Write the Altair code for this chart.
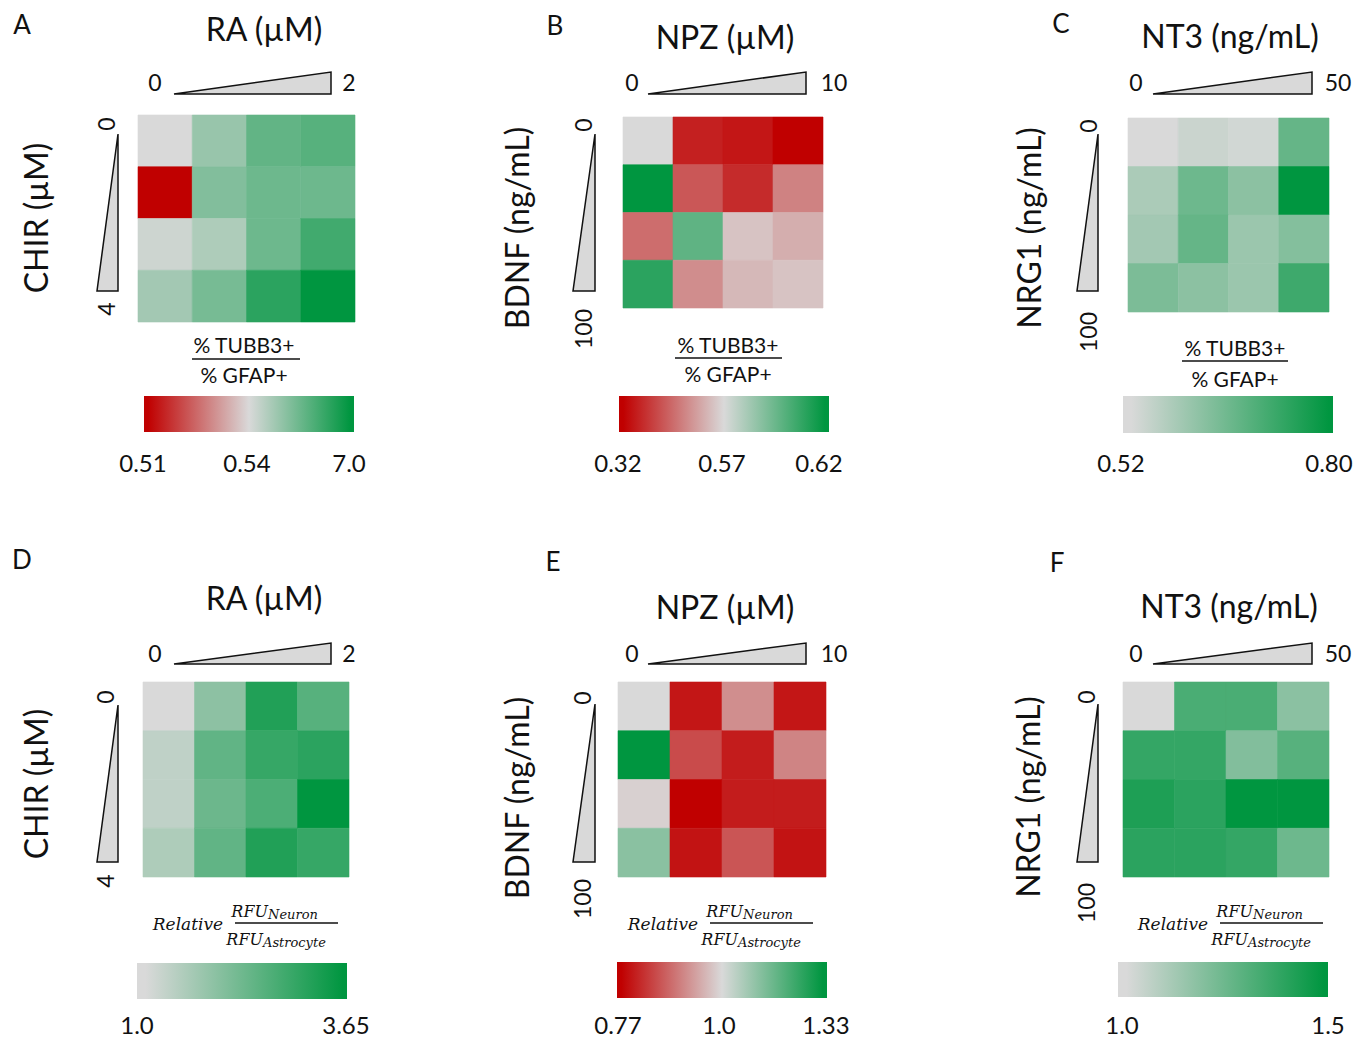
import altair as alt
import pandas as pd

# ---------------- data ----------------
panel_letters = ["A", "B", "C", "D", "E", "F"]
x_titles = ["RA (µM)", "NPZ (µM)", "NT3 (ng/mL)", "RA (µM)", "NPZ (µM)", "NT3 (ng/mL)"]
y_titles = ["CHIR (µM)", "BDNF (ng/mL)", "NRG1 (ng/mL)", "CHIR (µM)", "BDNF (ng/mL)", "NRG1 (ng/mL)"]
x_range_labels = [["0", "2"], ["0", "10"], ["0", "50"], ["0", "2"], ["0", "10"], ["0", "50"]]
y_range_labels = [["0", "4"], ["0", "100"], ["0", "100"], ["0", "4"], ["0", "100"], ["0", "100"]]

# heatmap values, rows top->bottom, columns left->right
heat_A = [[0.54, 2.48, 4.09, 4.42],
          [0.51, 3.12, 3.77, 3.77],
          [0.90, 1.83, 3.77, 5.06],
          [2.16, 3.45, 5.71, 7.00]]
heat_B = [[0.570, 0.357, 0.345, 0.320],
          [0.620, 0.420, 0.370, 0.470],
          [0.445, 0.598, 0.545, 0.520],
          [0.610, 0.482, 0.532, 0.545]]
heat_C = [[0.52, 0.54, 0.53, 0.67],
          [0.58, 0.66, 0.62, 0.80],
          [0.59, 0.67, 0.60, 0.63],
          [0.64, 0.62, 0.60, 0.72]]
heat_D = [[1.00, 1.93, 3.25, 2.59],
          [1.32, 2.46, 2.99, 3.12],
          [1.32, 2.33, 2.72, 3.65],
          [1.53, 2.46, 3.25, 2.99]]
heat_E = [[1.00, 0.793, 0.92, 0.793],
          [1.33, 0.85, 0.80, 0.91],
          [0.99, 0.77, 0.80, 0.80],
          [1.12, 0.79, 0.86, 0.79]]
heat_F = [[1.00, 1.33, 1.33, 1.18],
          [1.38, 1.38, 1.20, 1.30],
          [1.43, 1.40, 1.50, 1.50],
          [1.40, 1.40, 1.38, 1.25]]
heats = [heat_A, heat_B, heat_C, heat_D, heat_E, heat_F]

color_domains = [[0.51, 0.54, 7.0], [0.32, 0.57, 0.62], [0.52, 0.80],
                 [1.0, 3.65], [0.77, 1.0, 1.33], [1.0, 1.5]]
cbar_labels = [["0.51", "0.54", "7.0"], ["0.32", "0.57", "0.62"], ["0.52", "0.80"],
               ["1.0", "3.65"], ["0.77", "1.0", "1.33"], ["1.0", "1.5"]]
caption_top = "% TUBB3+"
caption_bottom = "% GFAP+"
frac_word = "Relative"
frac_main = "RFU"
frac_num_sub = "Neuron"
frac_den_sub = "Astrocyte"

# ---------------- style ----------------
RED, GREY, GREEN = "#C00000", "#D9D9D9", "#009640"
INK = "#111111"
SANS = "Lato"
SERIF = "DejaVu Serif"
M = 8  # page margin

ONE = alt.Data(values=[{"k": 0}])


def T(s, x, y, size, angle=0, align="center", baseline="middle", font=SANS, style="normal"):
    return alt.Chart(ONE).mark_text(
        text=s, fontSize=size, angle=angle, align=align, baseline=baseline,
        font=font, fontStyle=style, color=INK,
    ).encode(x=alt.value(x - M), y=alt.value(y - M))


def heat(vals, dom, x0, x1, y0, y1):
    df = pd.DataFrame([
        {"row": r, "col": c, "row2": r + 1, "col2": c + 1, "value": v}
        for r, rowv in enumerate(vals) for c, v in enumerate(rowv)
    ])
    rng = [RED, GREY, GREEN] if len(dom) == 3 else [GREY, GREEN]
    sc = alt.Scale(domain=dom, range=rng, interpolate="rgb")
    return alt.Chart(df).mark_rect(strokeWidth=0.6).encode(
        x=alt.X("col:Q", scale=alt.Scale(domain=[0, 4], range=[x0 - M, x1 - M], nice=False, zero=False), axis=None),
        x2="col2:Q",
        y=alt.Y("row:Q", scale=alt.Scale(domain=[0, 4], range=[y0 - M, y1 - M], nice=False, zero=False), axis=None),
        y2="row2:Q",
        color=alt.Color("value:Q", scale=sc, legend=None),
        stroke=alt.Stroke("value:Q", scale=sc, legend=None),
    )


def cbar(n, x0, x1, y0, y1):
    if n == 3:
        stops = [(0.0, RED), (0.02, RED), (0.5, GREY), (0.98, GREEN), (1.0, GREEN)]
    else:
        stops = [(0.0, GREY), (0.04, GREY), (0.98, GREEN), (1.0, GREEN)]
    grad = alt.LinearGradient(
        gradient="linear", x1=0, x2=1, y1=0, y2=0,
        stops=[alt.GradientStop(offset=o, color=c) for o, c in stops],
    )
    return alt.Chart(ONE).mark_rect(fill=grad).encode(
        x=alt.value(x0 - M), x2=alt.value(x1 - M), y=alt.value(y0 - M), y2=alt.value(y1 - M)
    )


def hwedge(x0, x1, y0, y1):
    L = x1 - x0
    h = (y1 - y0) / L
    path = f"M -1 {h:.4f} L 1 {-h:.4f} L 1 {h:.4f} Z"
    return alt.Chart(ONE).mark_point(
        shape=path, size=L * L, filled=True, fill=GREY, stroke=INK, strokeWidth=1.5, opacity=1
    ).encode(x=alt.value((x0 + x1) / 2 - M), y=alt.value((y0 + y1) / 2 - M))


def vwedge(x0, x1, y0, y1):
    L = y1 - y0
    w = (x1 - x0) / L
    path = f"M {w:.4f} -1 L {w:.4f} 1 L {-w:.4f} 1 Z"
    return alt.Chart(ONE).mark_point(
        shape=path, size=L * L, filled=True, fill=GREY, stroke=INK, strokeWidth=1.5, opacity=1
    ).encode(x=alt.value((x0 + x1) / 2 - M), y=alt.value((y0 + y1) / 2 - M))


def hline(x0, x1, y, w=1.4):
    return alt.Chart(ONE).mark_rule(color=INK, strokeWidth=w).encode(
        x=alt.value(x0 - M), x2=alt.value(x1 - M), y=alt.value(y - M)
    )


# ---------------- layout (pixel geometry per panel) ----------------
geo = [
    dict(letter=(22, 26), title=(264, 31), hw=(174, 331, 72, 94), hl=[(155, 84), (349, 84)],
         heat=(138, 355, 115, 322), vw=(97, 118, 134, 291), vl=[(108, 124), (108, 309)],
         yt=(38, 218), cap=(244, 347, 192, 300, 359, 377), cb=(144, 354, 396, 432), cbl=(465, [143, 247, 349])),
    dict(letter=(555, 27), title=(725, 39), hw=(648, 806, 72, 94), hl=[(632, 84), (834, 84)],
         heat=(623, 823, 117, 308), vw=(573, 595, 134, 291), vl=[(585, 125), (585, 329)],
         yt=(519, 228), cap=(728, 347, 675, 782, 358, 376), cb=(619, 829, 396, 432), cbl=(465, [618, 722, 819])),
    dict(letter=(1061, 25), title=(1230, 38), hw=(1153, 1312, 72, 94), hl=[(1136, 84), (1338, 84)],
         heat=(1128, 1329, 118, 312), vw=(1077, 1098, 134, 291), vl=[(1090, 126), (1090, 332)],
         yt=(1031, 228), cap=(1235, 350, 1182, 1288, 361, 381), cb=(1123, 1333, 396, 433), cbl=(465, [1121, 1329])),
    dict(letter=(22, 561), title=(264, 600), hw=(174, 331, 643, 664), hl=[(155, 655), (349, 655)],
         heat=(143, 349, 682, 877), vw=(97, 118, 705, 862), vl=[(107, 697), (107, 881)],
         yt=(38, 784), frac=0, cb=(137, 347, 963, 999), cbl=(1027, [137, 346])),
    dict(letter=(553, 563), title=(725, 609), hw=(648, 806, 643, 664), hl=[(632, 655), (834, 655)],
         heat=(618, 826, 682, 877), vw=(573, 595, 704, 862), vl=[(584, 698), (584, 899)],
         yt=(519, 798), frac=475, cb=(617, 827, 962, 998), cbl=(1027, [618, 719, 826])),
    dict(letter=(1057, 564), title=(1229, 608), hw=(1153, 1312, 643, 664), hl=[(1136, 655), (1338, 655)],
         heat=(1123, 1329, 682, 877), vw=(1077, 1098, 704, 862), vl=[(1088, 697), (1088, 903)],
         yt=(1030, 797), frac=985, cb=(1118, 1328, 962, 997), cbl=(1027, [1122, 1328])),
]

layers = []
for i, g in enumerate(geo):
    layers.append(T(panel_letters[i], *g["letter"], 26))
    layers.append(T(x_titles[i], *g["title"], 32))
    layers.append(hwedge(*g["hw"]))
    for lab, (lx, ly) in zip(x_range_labels[i], g["hl"]):
        layers.append(T(lab, lx, ly, 23))
    layers.append(heat(heats[i], color_domains[i], *g["heat"]))
    layers.append(vwedge(*g["vw"]))
    for lab, (lx, ly) in zip(y_range_labels[i], g["vl"]):
        layers.append(T(lab, lx, ly, 23, angle=270))
    layers.append(T(y_titles[i], *g["yt"], 32, angle=270))
    if "cap" in g:
        cx, cy1, lx0, lx1, ly, cy2 = g["cap"]
        layers.append(T(caption_top, cx, cy1, 21))
        layers.append(hline(lx0, lx1, ly))
        layers.append(T(caption_bottom, cx, cy2, 21))
    else:
        o = g["frac"]
        layers.append(T(frac_word, 188 + o, 925, 17, font=SERIF, style="italic"))
        layers.append(T(frac_main, 268 + o, 917, 16, align="right", baseline="alphabetic", font=SERIF, style="italic"))
        layers.append(T(frac_num_sub, 268 + o, 919, 13, align="left", baseline="alphabetic", font=SERIF, style="italic"))
        layers.append(hline(235 + o, 338 + o, 923, 1.6))
        layers.append(T(frac_main, 263 + o, 945, 16, align="right", baseline="alphabetic", font=SERIF, style="italic"))
        layers.append(T(frac_den_sub, 263 + o, 947, 13, align="left", baseline="alphabetic", font=SERIF, style="italic"))
    layers.append(cbar(len(color_domains[i]), *g["cb"]))
    ly, xs = g["cbl"]
    for lab, lx in zip(cbar_labels[i], xs):
        layers.append(T(lab, lx, ly, 24))

chart = alt.layer(*layers).resolve_scale(
    x="independent", y="independent", color="independent", stroke="independent"
).properties(
    width=1354, height=1035, padding=0, autosize=alt.AutoSizeParams(type="none")
).configure(background="white", view=alt.ViewConfig(stroke=None))

chart.save("out.html", embed_options={"renderer": "svg", "actions": False})
